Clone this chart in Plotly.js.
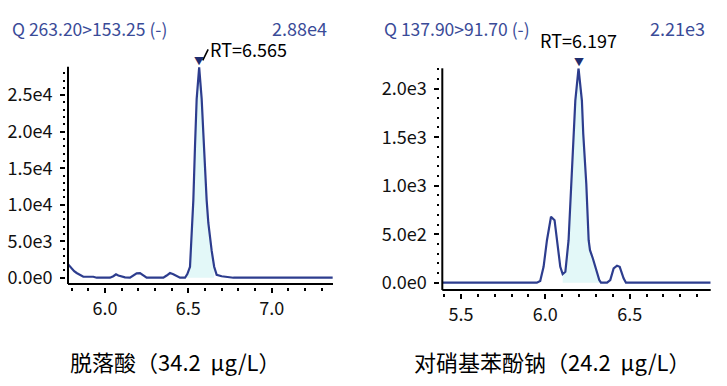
<!DOCTYPE html>
<html>
<head>
<meta charset="utf-8">
<script src="https://cdn.plot.ly/plotly-3.0.1.min.js"></script>
<style>html,body{margin:0;padding:0;background:#fff;}#chart{width:727px;height:386px;}</style>
</head>
<body>
<div id="chart"></div>
<script>
// ---- Panel 1: 脱落酸 ----
const time1 = [5.778, 5.79, 5.80, 5.815, 5.83, 5.85, 5.87, 5.89, 5.91, 5.93, 5.95, 5.99, 6.03, 6.05, 6.066, 6.08, 6.10, 6.12, 6.15, 6.17, 6.19, 6.21, 6.23, 6.25, 6.30, 6.35, 6.37, 6.39, 6.41, 6.43, 6.45, 6.48, 6.494, 6.51, 6.52, 6.53, 6.54, 6.55, 6.565, 6.58, 6.59, 6.60, 6.61, 6.62, 6.63, 6.64, 6.655, 6.67, 6.70, 6.73, 6.77, 6.90, 7.05, 7.06, 7.07, 7.20, 7.366];
const inten1 = [1850, 1500, 1200, 900, 650, 350, 150, 130, 180, 130, 0, 0, 0, 200, 460, 300, 140, 50, 0, 250, 600, 640, 300, 0, 0, 0, 300, 640, 480, 200, 0, 0, 500, 1500, 6000, 10600, 18000, 24500, 28800, 24500, 19800, 14000, 10600, 7500, 5500, 3700, 1500, 400, 200, 140, 0, 0, 0, 100, 0, 0, 0];
const fill1 = [6.48, 6.66];
const rt1 = 6.565, peak1 = 28800;
const title1 = "Q 263.20>153.25 (-)", max1 = "2.88e4";
const caption1 = "脱落酸（34.2  μg/L）";
const xTicks1 = [6.0, 6.5, 7.0], xTickText1 = ["6.0", "6.5", "7.0"];
const yTicks1 = [0, 5000, 10000, 15000, 20000, 25000];
const yTickText1 = ["0.0e0", "5.0e3", "1.0e4", "1.5e4", "2.0e4", "2.5e4"];

// ---- Panel 2: 对硝基苯酚钠 ----
const time2 = [5.39, 5.95, 5.97, 5.99, 6.01, 6.034, 6.055, 6.069, 6.089, 6.103, 6.119, 6.138, 6.152, 6.168, 6.178, 6.197, 6.217, 6.225, 6.243, 6.257, 6.265, 6.282, 6.30, 6.32, 6.33, 6.366, 6.385, 6.405, 6.425, 6.441, 6.464, 6.478, 6.98];
const inten2 = [0, 0, 17, 164, 438, 680, 644, 438, 164, 89, 113, 438, 918, 1534, 1877, 2210, 1877, 1534, 1020, 438, 335, 250, 130, 27, 0, 0, 27, 147, 175, 164, 45, 0, 0];
const fill2 = [6.103, 6.33];
const rt2 = 6.197, peak2 = 2210;
const title2 = "Q 137.90>91.70 (-)", max2 = "2.21e3";
const caption2 = "对硝基苯酚钠（24.2  μg/L）";
const xTicks2 = [5.5, 6.0, 6.5], xTickText2 = ["5.5", "6.0", "6.5"];
const yTicks2 = [0, 500, 1000, 1500, 2000];
const yTickText2 = ["0.0e0", "5.0e2", "1.0e3", "1.5e3", "2.0e3"];

const W = 727, H = 386;
const lineColor = "#2d3d8e";
const fillColor = "#e3f8f8";
const titleColor = "#3a4b98";
const markColor = "#1f2d6e";
const FONT = "Noto Sans CJK SC, Noto Sans, sans-serif";

const xr1 = [5.778, 7.368], yr1 = [-860, 28900];
const xr2 = [5.39, 6.98], yr2 = [-75, 2210];
const dx1 = [68 / W, 333 / W], dy1 = [1 - 284 / H, 1 - 66.7 / H];
const dx2 = [442.3 / W, 710.7 / W], dy2 = [1 - 290 / H, 1 - 68.3 / H];
const xGap = 3 / H, yGap = 3 / W;   // small gap between axis line and tick marks

function pick(t, v, r) {
  const xs = [], ys = [];
  t.forEach((x, i) => { if (x >= r[0] && x <= r[1]) { xs.push(x); ys.push(v[i]); } });
  return {xs, ys};
}

const f1 = pick(time1, inten1, fill1);
const f2 = pick(time2, inten2, fill2);

const traces = [
  {x: f1.xs, y: f1.ys, xaxis: "x", yaxis: "y", type: "scatter", mode: "lines", fill: "tozeroy", fillcolor: fillColor, line: {width: 0}, hoverinfo: "skip"},
  {x: time1, y: inten1, xaxis: "x", yaxis: "y", type: "scatter", mode: "lines", line: {color: lineColor, width: 2.2}},
  {x: f2.xs, y: f2.ys, xaxis: "x2", yaxis: "y2", type: "scatter", mode: "lines", fill: "tozeroy", fillcolor: fillColor, line: {width: 0}, hoverinfo: "skip"},
  {x: time2, y: inten2, xaxis: "x2", yaxis: "y2", type: "scatter", mode: "lines", line: {color: lineColor, width: 2.2}}
];

function xAxis(range, domain, pos, tv, tt) {
  return {range, domain, anchor: "free", position: pos, showgrid: false, zeroline: false, showline: false,
    ticks: "outside", ticklen: 5, tickwidth: 2, tickcolor: "#000", tickmode: "array", tickvals: tv, ticktext: tt,
    ticklabelstandoff: 0, tickfont: {family: FONT, size: 18, color: "#111"},
    minor: {tickmode: "linear", tick0: 0, dtick: 0.1, ticks: "outside", ticklen: 2.5, tickwidth: 2, tickcolor: "#000"}};
}
function yAxis(range, domain, pos, tv, tt, minorStep) {
  return {range, domain, anchor: "free", position: pos, showgrid: false, zeroline: false, showline: false,
    ticks: "outside", ticklen: 5, tickwidth: 2, tickcolor: "#000", tickmode: "array", tickvals: tv, ticktext: tt,
    ticklabelstandoff: 4, tickfont: {family: FONT, size: 18, color: "#111"},
    minor: {tickmode: "linear", tick0: 0, dtick: minorStep, ticks: "outside", ticklen: 2.5, tickwidth: 2, tickcolor: "#000"}};
}

function axisLines(xa, ya) {
  const ln = {color: "#000", width: 2};
  return [
    {type: "line", xref: xa + " domain", yref: ya + " domain", x0: 0, x1: 1, y0: 0, y1: 0, line: ln},
    {type: "line", xref: xa + " domain", yref: ya + " domain", x0: 0, x1: 0, y0: 0, y1: 1, line: ln}
  ];
}

const ann = [
  {xref: "paper", yref: "paper", x: 10 / W, y: 1 - 28 / H, xanchor: "left", yanchor: "middle", text: title1, showarrow: false, font: {family: FONT, size: 17.5, color: titleColor}},
  {xref: "paper", yref: "paper", x: 329 / W, y: 1 - 28 / H, xanchor: "right", yanchor: "middle", text: max1, showarrow: false, font: {family: FONT, size: 18, color: titleColor}},
  {xref: "paper", yref: "paper", x: 382 / W, y: 1 - 28 / H, xanchor: "left", yanchor: "middle", text: title2, showarrow: false, font: {family: FONT, size: 17.5, color: titleColor}},
  {xref: "paper", yref: "paper", x: 707 / W, y: 1 - 28 / H, xanchor: "right", yanchor: "middle", text: max2, showarrow: false, font: {family: FONT, size: 18, color: titleColor}},
  // peak markers
  {xref: "x", yref: "y", x: rt1, y: peak1, text: "▼", showarrow: false, yanchor: "bottom", yshift: -3, font: {family: FONT, size: 10, color: markColor}},
  {xref: "x2", yref: "y2", x: rt2, y: peak2, text: "▼", showarrow: false, yanchor: "bottom", yshift: -3, font: {family: FONT, size: 10, color: markColor}},
  // RT labels
  {xref: "x", yref: "y", x: rt1, y: peak1, text: "RT=" + rt1.toFixed(3), showarrow: true, arrowhead: 0, arrowwidth: 1.6, arrowcolor: "#000",
    ax: 9, ay: -18, standoff: 8, xanchor: "left", yanchor: "middle", font: {family: FONT, size: 18, color: "#000"}},
  {xref: "x2", yref: "y2", x: rt2, y: peak2, text: "RT=" + rt2.toFixed(3), showarrow: false, yanchor: "bottom", yshift: 13, font: {family: FONT, size: 18, color: "#000"}},
  // captions
  {xref: "paper", yref: "paper", x: 175 / W, y: 1 - 361 / H, xanchor: "center", yanchor: "middle", text: caption1, showarrow: false, font: {family: FONT, size: 22, color: "#000"}},
  {xref: "paper", yref: "paper", x: 552 / W, y: 1 - 361 / H, xanchor: "center", yanchor: "middle", text: caption2, showarrow: false, font: {family: FONT, size: 22, color: "#000"}}
];

const layout = {
  width: W, height: H, margin: {l: 0, r: 0, t: 0, b: 0}, paper_bgcolor: "#fff", plot_bgcolor: "#fff", showlegend: false,
  xaxis: xAxis(xr1, dx1, dy1[0] - xGap, xTicks1, xTickText1),
  yaxis: yAxis(yr1, dy1, dx1[0] - yGap, yTicks1, yTickText1, 1000),
  xaxis2: xAxis(xr2, dx2, dy2[0] - xGap, xTicks2, xTickText2),
  yaxis2: yAxis(yr2, dy2, dx2[0] - yGap, yTicks2, yTickText2, 100),
  shapes: axisLines("x", "y").concat(axisLines("x2", "y2")),
  annotations: ann
};

Plotly.newPlot("chart", traces, layout, {staticPlot: true, displayModeBar: false});
</script>
</body>
</html>
